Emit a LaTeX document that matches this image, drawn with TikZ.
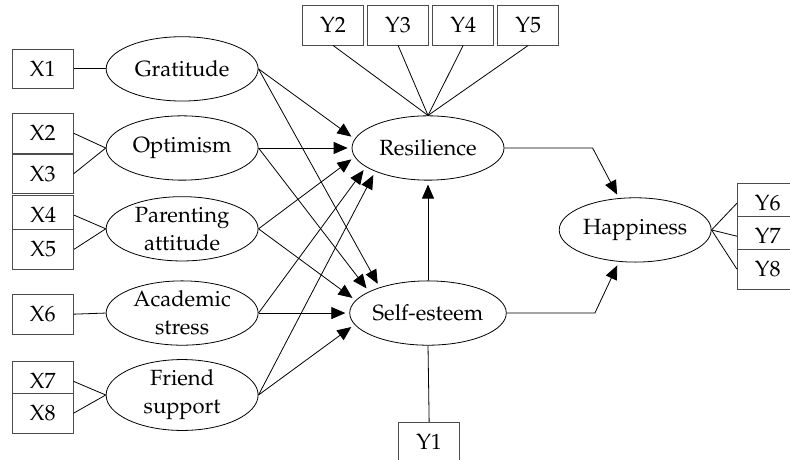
\documentclass[tikz,border=0pt]{standalone}
\usepackage[T1]{fontenc}
\usepackage{mathpazo}
\usetikzlibrary{shapes,arrows.meta,positioning}

\begin{document}
\begin{tikzpicture}[
    latent/.style={ellipse, draw, fill=white, minimum width=2.67cm, minimum height=1.13cm,
                inner sep=0pt, align=center, font=\fontsize{11}{14}\selectfont},
    obs/.style={rectangle, draw=black!70, fill=white, minimum width=1.07cm, minimum height=0.70cm,
                inner sep=1pt, font=\fontsize{11}{14}\selectfont},
    arrow/.style={-{Triangle[length=7pt,width=6pt]}, shorten >=2pt}
]
    \clip (0,0) rectangle (13.88,-8.08);

    % latent variables
    \node[latent] (grat) at (3.20,-1.21) {Gratitude};
    \node[latent] (opt) at (3.20,-2.60) {Optimism};
    \node[latent] (par) at (3.20,-4.02) {Parenting\\attitude};
    \node[latent] (aca) at (3.20,-5.50) {Academic\\stress};
    \node[latent] (fri) at (3.20,-6.94) {Friend\\support};
    \node[latent] (res) at (7.52,-2.60) {Resilience};
    \node[latent] (self) at (7.52,-5.50) {Self-esteem};
    \node[latent] (hap) at (11.16,-4.04) {Happiness};

    % indicators
    \node[obs] (x1) at (0.75,-1.21) {X1};
    \node[obs] (x2) at (0.75,-2.34) {X2};
    \node[obs, below=0pt of x2] (x3) {X3};
    \node[obs] (x4) at (0.76,-3.78) {X4};
    \node[obs] (x5) at (0.76,-4.38) {X5};
    \node[obs] (x6) at (0.75,-5.52) {X6};
    \node[obs] (x7) at (0.75,-6.70) {X7};
    \node[obs] (x8) at (0.75,-7.26) {X8};

    \node[obs] (y2) at (5.85,-0.44) {Y2};
    \node[obs, right=0.06cm of y2] (y3) {Y3};
    \node[obs, right=0.06cm of y3] (y4) {Y4};
    \node[obs, right=0.06cm of y4] (y5) {Y5};
    \node[obs] (y1) at (7.54,-7.77) {Y1};
    \node[obs] (y6) at (13.49,-3.57) {Y6};
    \node[obs] (y7) at (13.49,-4.15) {Y7};
    \node[obs] (y8) at (13.49,-4.73) {Y8};

    % measurement
    \draw (x1.east) -- (grat.west);
    \draw (x2.east) -- (opt.west);
    \draw (x3.east) -- (opt.west);
    \draw (x4.east) -- (par.west);
    \draw (x5.east) -- (par.west);
    \draw (x6.east) -- (aca.west);
    \draw (x7.east) -- (fri.west);
    \draw (x8.east) -- (fri.west);
    \draw (y2.south) -- (res.north);
    \draw (y3.south) -- (res.north);
    \draw (y4.south) -- (res.north);
    \draw (y5.south) -- (res.north);
    \draw (y1.north) -- (self.south);
    \draw (hap.east) -- (y6.west);
    \draw (hap.east) -- (y7.west);
    \draw (hap.east) -- (y8.west);

    % paths
    \draw[arrow] (grat.east) -- (res.173);
    \draw[arrow] (grat.east) -- (self.152);
    \draw[arrow] (opt.east) -- (res.180);
    \draw[arrow] (opt.east) -- (self.160);
    \draw[arrow] (par.east) -- (res.187);
    \draw[arrow] (par.east) -- (self.170);
    \draw[arrow] (aca.east) -- (res.197);
    \draw[arrow] (aca.east) -- (self.180);
    \draw[arrow] (fri.east) -- (res.204);
    \draw[arrow] (fri.east) -- (self.189);
    \draw[arrow] (self.north) -- (res.south);
    \draw[arrow] (res.east) -- ++(1.55,0) -- (hap.117);
    \draw[arrow] (self.east) -- ++(1.55,0) -- (hap.243);
\end{tikzpicture}
\end{document}
